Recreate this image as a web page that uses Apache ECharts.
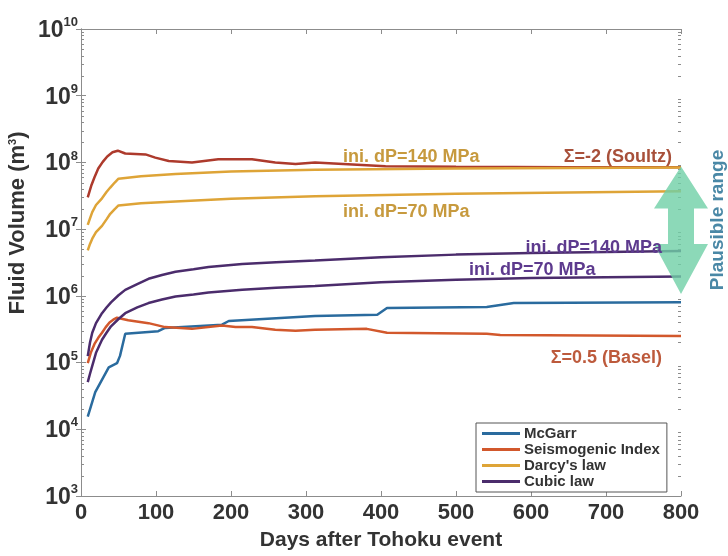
<!DOCTYPE html>
<html>
<head>
<meta charset="utf-8">
<script src="https://cdn.jsdelivr.net/npm/echarts@6/dist/echarts.min.js"></script>
<style>
  html, body { margin: 0; padding: 0; background: #fff; }
  #chart { width: 728px; height: 556px; }
</style>
</head>
<body>
<div id="chart"></div>
<script>
// values (days after event, fluid volume in m3)
const mcgarrDays = [9, 19, 37, 48, 52, 59, 103, 112, 188, 197, 312, 395, 408, 541, 577, 800];
const mcgarrVol = [1.55e4, 3.6e4, 8.5e4, 9.8e4, 1.26e5, 2.7e5, 2.95e5, 3.3e5, 3.7e5, 4.2e5, 5.0e5, 5.2e5, 6.6e5, 6.8e5, 7.8e5, 8.0e5];

const baselDays = [9, 13, 18, 23, 28, 33, 38, 43, 48, 63, 90, 112, 148, 188, 206, 228, 259, 286, 312, 381, 408, 541, 559, 800];
const baselVol = [9.8e4, 1.4e5, 1.9e5, 2.35e5, 2.8e5, 3.4e5, 4.0e5, 4.4e5, 4.7e5, 4.3e5, 3.9e5, 3.4e5, 3.2e5, 3.6e5, 3.4e5, 3.4e5, 3.1e5, 3.0e5, 3.1e5, 3.2e5, 2.8e5, 2.7e5, 2.6e5, 2.5e5];

const soultzDays = [9, 14, 18, 23, 29, 35, 42, 49, 59, 86, 99, 117, 148, 183, 228, 259, 286, 312, 406, 500, 650, 800];
const soultzVol = [3.0e7, 4.6e7, 6.0e7, 8.1e7, 1.02e8, 1.23e8, 1.42e8, 1.5e8, 1.36e8, 1.32e8, 1.18e8, 1.05e8, 1.0e8, 1.12e8, 1.12e8, 1.0e8, 9.5e7, 1.0e8, 8.8e7, 8.6e7, 8.5e7, 8.5e7];

const darcyDays = [9, 12, 15, 20, 28, 34, 39, 45, 50, 80, 126, 200, 312, 500, 800];
const darcy140 = [1.16e7, 1.45e7, 1.8e7, 2.3e7, 2.9e7, 3.6e7, 4.2e7, 5.0e7, 5.7e7, 6.2e7, 6.7e7, 7.3e7, 7.8e7, 8.1e7, 8.4e7];
const darcy70 = [4.8e6, 6.0e6, 7.2e6, 9.0e6, 1.12e7, 1.4e7, 1.7e7, 2.0e7, 2.27e7, 2.45e7, 2.6e7, 2.85e7, 3.1e7, 3.4e7, 3.7e7];

const cubicDays = [9, 12, 15, 20, 28, 34, 40, 50, 59, 75, 90, 108, 126, 150, 170, 215, 260, 312, 400, 500, 600, 800];
const cubic140 = [1.25e5, 2.0e5, 2.8e5, 3.9e5, 5.5e5, 6.7e5, 8.0e5, 1.02e6, 1.23e6, 1.5e6, 1.8e6, 2.05e6, 2.3e6, 2.5e6, 2.7e6, 3.0e6, 3.2e6, 3.4e6, 3.8e6, 4.15e6, 4.4e6, 4.7e6];
const cubic70 = [5.1e4, 6.8e4, 8.9e4, 1.4e5, 2.2e5, 2.8e5, 3.5e5, 4.5e5, 5.5e5, 6.7e5, 7.8e5, 8.8e5, 9.8e5, 1.05e6, 1.12e6, 1.23e6, 1.32e6, 1.4e6, 1.6e6, 1.75e6, 1.85e6, 1.95e6];

const legendNames = ['McGarr', 'Seismogenic Index', "Darcy's law", 'Cubic law'];
const plausibleRange = [1.07e6, 8.7e7];
const minorSteps = [2, 3, 4, 5, 6, 7, 8, 9];

const FONT = "'Liberation Sans', Arial, sans-serif";
const pairs = (d, v) => d.map((x, i) => [x, v[i]]);

let myChart = echarts.init(document.getElementById('chart'));

function line(name, data, color) {
    return {
        name: name, type: 'line', data: data, showSymbol: false, symbol: 'none',
        lineStyle: { width: 2.5, color: color }, itemStyle: { color: color },
        animation: false
    };
}

const axisLine = { show: true, lineStyle: { color: '#8c8c8c', width: 1 } };
const tick = { show: true, inside: true, length: 5, lineStyle: { color: '#8c8c8c' } };

myChart.setOption({
    animation: false,
    grid: { left: 81, right: 47, top: 29, bottom: 53 },
    legend: {
        data: legendNames,
        orient: 'vertical',
        left: 476, top: 423,
        padding: [3, 7, 3, 6],
        itemGap: 1,
        itemWidth: 38, itemHeight: 3,
        icon: 'rect',
        borderColor: '#555', borderWidth: 1, backgroundColor: '#fff',
        textStyle: { fontFamily: FONT, fontWeight: 'bold', fontSize: 15, color: '#333', lineHeight: 15, padding: [0, 0, 0, -1] }
    },
    xAxis: [
        {
            type: 'value', min: 0, max: 800, interval: 100,
            axisLine: axisLine, axisTick: tick, splitLine: { show: false },
            axisLabel: { fontFamily: FONT, fontWeight: 'bold', fontSize: 22, color: '#333', margin: 6 },
            name: 'Days after Tohoku event', nameLocation: 'middle', nameGap: 34,
            nameTextStyle: { fontFamily: FONT, fontWeight: 'bold', fontSize: 21, color: '#333' }
        },
        {
            type: 'value', min: 0, max: 800, interval: 100, position: 'top',
            axisLine: axisLine, axisTick: tick, splitLine: { show: false }, axisLabel: { show: false }
        }
    ],
    yAxis: [
        {
            type: 'log', logBase: 10, min: 1e3, max: 1e10,
            axisLine: axisLine, axisTick: tick, splitLine: { show: false },
            axisLabel: {
                margin: 3,
                formatter: v => '{b|10}{s|' + Math.round(Math.log10(v)) + '}',
                rich: {
                    b: { fontFamily: FONT, fontWeight: 'bold', fontSize: 23, color: '#333', verticalAlign: 'bottom' },
                    s: { fontFamily: FONT, fontWeight: 'bold', fontSize: 13, color: '#333', verticalAlign: 'bottom', padding: [0, 0, 13, 0] }
                }
            }
        },
        {
            type: 'log', logBase: 10, min: 1e3, max: 1e10, position: 'right',
            axisLine: axisLine, axisTick: tick, splitLine: { show: false }, axisLabel: { show: false }
        }
    ],
    series: [
        line('McGarr', pairs(mcgarrDays, mcgarrVol), '#2a6b9e'),
        line('Seismogenic Index', pairs(baselDays, baselVol), '#d2582c'),
        line('Seismogenic Index', pairs(soultzDays, soultzVol), '#ad3a2c'),
        line("Darcy's law", pairs(darcyDays, darcy140), '#dea437'),
        line("Darcy's law", pairs(darcyDays, darcy70), '#dea437'),
        line('Cubic law', pairs(cubicDays, cubic140), '#4b2c6c'),
        line('Cubic law', pairs(cubicDays, cubic70), '#4b2c6c')
    ]
});

// double arrow for plausible range, placed through the axes
const cx = myChart.convertToPixel({ xAxisIndex: 0 }, 800);
const x0 = myChart.convertToPixel({ xAxisIndex: 0 }, 0);
const yTop = myChart.convertToPixel({ yAxisIndex: 0 }, plausibleRange[1]);
const yBot = myChart.convertToPixel({ yAxisIndex: 0 }, plausibleRange[0]);
const hw = 27, sw = 13, hhTop = 42, hhBot = 50;

function txt(text, x, y, color, align, size) {
    return {
        type: 'text', x: x, y: y, z: 10,
        style: { text: text, fill: color, font: 'bold ' + (size || 18) + 'px ' + FONT, align: align || 'left', verticalAlign: 'middle' }
    };
}

// log minor ticks (2..9 per decade) on left and right axes
let minorTicks = [];
for (let e = 3; e < 10; e++) {
    minorSteps.forEach(m => {
        const y = Math.round(myChart.convertToPixel({ yAxisIndex: 0 }, m * Math.pow(10, e))) + 0.5;
        minorTicks.push({ type: 'line', silent: true, shape: { x1: x0, y1: y, x2: x0 + 3, y2: y }, style: { stroke: '#8c8c8c', lineWidth: 1 } });
        minorTicks.push({ type: 'line', silent: true, shape: { x1: cx - 3, y1: y, x2: cx, y2: y }, style: { stroke: '#8c8c8c', lineWidth: 1 } });
    });
}

myChart.setOption({
    graphic: minorTicks.concat([
        {
            type: 'polygon', z: 5,
            shape: {
                points: [
                    [cx, yTop], [cx + hw, yTop + hhTop], [cx + sw, yTop + hhTop],
                    [cx + sw, yBot - hhBot], [cx + hw, yBot - hhBot], [cx, yBot],
                    [cx - hw, yBot - hhBot], [cx - sw, yBot - hhBot], [cx - sw, yTop + hhTop],
                    [cx - hw, yTop + hhTop]
                ]
            },
            style: { fill: '#6fcfa6', opacity: 0.8 }
        },
        txt('ini. dP=140 MPa', 343, 157, '#c79a3e'),
        txt('Σ=-2 (Soultz)', 672, 157, '#a8503a', 'right'),
        txt('ini. dP=70 MPa', 343, 212, '#c79a3e'),
        txt('ini. dP=140 MPa', 662, 248, '#5d3a8e', 'right'),
        txt('ini. dP=70 MPa', 469, 270, '#5d3a8e'),
        txt('Σ=0.5 (Basel)', 662, 358, '#bd5a3c', 'right'),
        {
            type: 'text', x: 718, y: 220, rotation: Math.PI / 2,
            style: { text: 'Plausible range', fill: '#4a88a6', font: 'bold 19px ' + FONT, align: 'center', verticalAlign: 'middle' }
        },
        {
            type: 'text', x: 18, y: 223, rotation: Math.PI / 2,
            style: {
                text: '{a|Fluid Volume (m}{s|3}{a|)}', align: 'center', verticalAlign: 'middle',
                rich: {
                    a: { font: 'bold 22px ' + FONT, fill: '#333', verticalAlign: 'bottom' },
                    s: { font: 'bold 11px ' + FONT, fill: '#333', verticalAlign: 'bottom', padding: [0, 0, 11, 0] }
                }
            }
        }
    ])
});

window.addEventListener('resize', function () {
    myChart.resize();
});
</script>
</body>
</html>
